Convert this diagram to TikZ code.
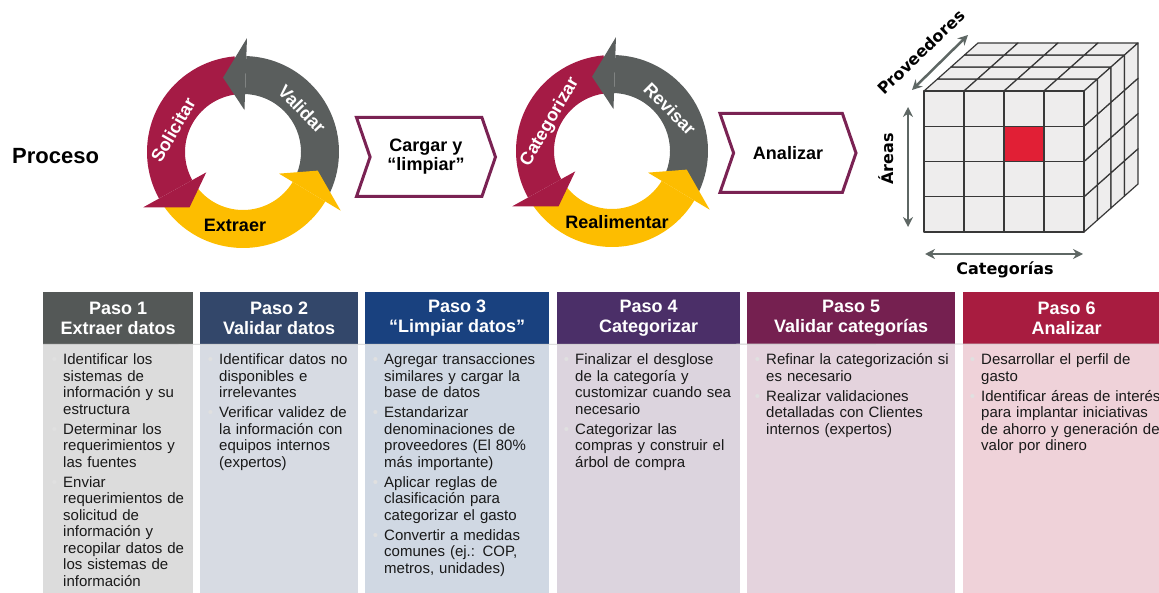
\documentclass[tikz,border=0pt]{standalone}
\usepackage{fontspec}
\setmainfont{Liberation Sans}
\newfontfamily\cubefont{DejaVu Sans}
\usetikzlibrary{shapes.symbols,arrows.meta,positioning}

\definecolor{ringred}{HTML}{A51B45}
\definecolor{ringgray}{HTML}{5A5E5D}
\definecolor{ringyellow}{HTML}{FDBD00}
\definecolor{chevline}{HTML}{7A2253}
\definecolor{cubefill}{HTML}{EEEDED}
\definecolor{cubeline}{HTML}{383838}
\definecolor{cubered}{HTML}{E11F35}
\definecolor{axisgray}{HTML}{5E6764}
\definecolor{head1}{HTML}{545857}
\definecolor{head2}{HTML}{33476A}
\definecolor{head3}{HTML}{19417F}
\definecolor{head4}{HTML}{4B2F68}
\definecolor{head5}{HTML}{752050}
\definecolor{head6}{HTML}{A81C40}
\definecolor{body1}{HTML}{DCDCDC}
\definecolor{body2}{HTML}{D7DBE3}
\definecolor{body3}{HTML}{D0D8E3}
\definecolor{body4}{HTML}{DCD4DE}
\definecolor{body5}{HTML}{E4D3DD}
\definecolor{body6}{HTML}{EFD2D9}

\newcommand{\pitem}[1]{\leavevmode\llap{\textcolor{white!88!black}{\textbullet}\hspace{6pt}}#1\par\vspace{3.5pt}}

\tikzset{
  proc/.style={anchor=west, inner sep=0pt, font=\fontsize{22}{24}\selectfont\bfseries},
  ringlab/.style={inner sep=0pt, font=\fontsize{18}{20}\selectfont\bfseries},
  chev/.style={signal, signal to=east, signal from=west, signal pointer angle=142,
    draw=chevline, line width=3pt, fill=white, minimum width=139pt, minimum height=79pt,
    align=center, font=\fontsize{18}{19}\selectfont\bfseries},
  cell/.style={fill=cubefill, draw=cubeline, line width=1.2pt, line join=round},
  axis/.style={axisgray, line width=2.5pt, {Stealth[length=10pt,width=10pt]}-{Stealth[length=10pt,width=10pt]}},
  axislab/.style={inner sep=0pt, font=\cubefont\fontsize{16}{18}\selectfont\bfseries},
  pasohead/.style={anchor=north west, minimum height=52pt, inner sep=0pt, text=white,
    align=center, font=\fontsize{18}{19.5}\selectfont\bfseries},
  pasobody/.style={anchor=north west, minimum height=250pt, inner sep=0pt},
  pasotext/.style={anchor=base west, inner sep=0pt, text width=215pt, align=left,
    text=black!90, font=\fontsize{15}{16.5}\selectfont},
}

\begin{document}
\begin{tikzpicture}[x=1pt, y=1pt]
\useasboundingbox (0,0) rectangle (1159,592);
\node[proc] (proceso) at (12,436) {Proceso};

\foreach \cx/\cy in {243/440, 612/441} {
  \begin{scope}[shift={(\cx,\cy)}]
  \foreach \c/\s/\b in {ringgray/-28/88, ringred/95/209, ringyellow/214/329}
    \fill[\c] (\s:58) arc[start angle=\s, end angle=\b, radius=58] -- (\b:96)
      arc[start angle=\b, end angle=\s, radius=96] -- cycle;
  \foreach \c/\b in {ringgray/88, ringred/209, ringyellow/329}
    \fill[\c] (\b:42) -- ({\b+17}:77) -- (\b:114) -- cycle;
  \end{scope}
}
\node[ringlab, text=white, rotate=60] (solicitar) at (173,462) {Solicitar};
\node[ringlab, text=white, rotate=-46] (validar) at (302,483) {Validar};
\node[ringlab] (extraer) at (235,367) {Extraer};
\node[chev] (cargar) at (426,435) {Cargar y\\“limpiar”};
\node[ringlab, text=white, rotate=60] (categorizar) at (550,470) {Categorizar};
\node[ringlab, text=white, rotate=-45] (revisar) at (670,483) {Revisar};
\node[ringlab] (realimentar) at (617,370) {Realimentar};
\node[chev, minimum width=136pt] (analizar) at (788,439) {Analizar};

\foreach \i in {0,...,3}
  \foreach \k in {0,...,3}
    \draw[cell] ({924+40*\i+13.5*\k},{501+12*\k}) -- ++(40,0) -- ++(13.5,12) -- ++(-40,0) -- cycle;
\foreach \j in {0,...,3}
  \foreach \k in {0,...,3}
    \draw[cell] ({1084+13.5*\k},{360+35.25*\j+12*\k}) -- ++(13.5,12) -- ++(0,35.25) -- ++(-13.5,-12) -- cycle;
\foreach \i in {0,...,3}
  \foreach \j in {0,...,3}
    \draw[cell] ({924+40*\i},{360+35.25*\j}) rectangle ++(40,35.25);
\draw[cell, fill=cubered] (1004,430.5) rectangle ++(40,35.25);

\coordinate (prov a) at (912,502);
\coordinate (prov b) at (968,557);
\coordinate (area a) at (908,485);
\coordinate (area b) at (908,365);
\coordinate (cat a) at (925,338);
\coordinate (cat b) at (1083,338);
\draw[axis] (prov a) -- (prov b);
\draw[axis] (area a) -- (area b);
\draw[axis] (cat a) -- (cat b);
\node[axislab, rotate=44] (proveedores) at (921,540) {Proveedores};
\node[axislab, rotate=90] (areas) at (886,433) {Áreas};
\node[axislab] (categorias) at (1005,322) {Categorías};

\foreach \n/\xa/\xb/\ttl in {1/43/193/{Paso 1\\Extraer datos}, 2/200/358/{Paso 2\\Validar datos},
    3/365/549/{Paso 3\\“Limpiar datos”}, 4/557/740/{Paso 4\\Categorizar},
    5/747/955/{Paso 5\\Validar categorías}, 6/963/1170/{Paso 6\\Analizar}} {
  \pgfmathsetmacro\w{\xb-\xa}
  \node[pasobody, fill=body\n, minimum width=\w pt] (b\n) at (\xa,248) {};
  \node[pasohead, fill=head\n, minimum width=\w pt] (h\n) at (\xa,300) {\ttl};
}
\coordinate (rightedge) at (1159,248);
\draw[black!20, line width=0.8pt] (h1.south west) -- (rightedge);

\node[pasotext] (t1) at (63,227) {%
\pitem{Identificar los\\sistemas de\\información y su\\estructura}
\pitem{Determinar los\\requerimientos y\\las fuentes}
\pitem{Enviar\\requerimientos de\\solicitud de\\información y\\recopilar datos de\\los sistemas de\\información}};
\node[pasotext] (t2) at (219,227) {%
\pitem{Identificar datos no\\disponibles e\\irrelevantes}
\pitem{Verificar validez de\\la información con\\equipos internos\\(expertos)}};
\node[pasotext] (t3) at (384,227) {%
\pitem{Agregar transacciones\\similares y cargar la\\base de datos}
\pitem{Estandarizar\\denominaciones de\\proveedores (El 80\%\\más importante)}
\pitem{Aplicar reglas de\\clasificación para\\categorizar el gasto}
\pitem{Convertir a medidas\\comunes (ej.: COP,\\metros, unidades)}};
\node[pasotext] (t4) at (575,227) {%
\pitem{Finalizar el desglose\\de la categoría y\\customizar cuando sea\\necesario}
\pitem{Categorizar las\\compras y construir el\\árbol de compra}};
\node[pasotext] (t5) at (766,227) {%
\pitem{Refinar la categorización si\\es necesario}
\pitem{Realizar validaciones\\detalladas con Clientes\\internos (expertos)}};
\node[pasotext] (t6) at (981,227) {%
\pitem{Desarrollar el perfil de\\gasto}
\pitem{Identificar áreas de interés\\para implantar iniciativas\\de ahorro y generación de\\valor por dinero}};
\end{tikzpicture}
\end{document}
